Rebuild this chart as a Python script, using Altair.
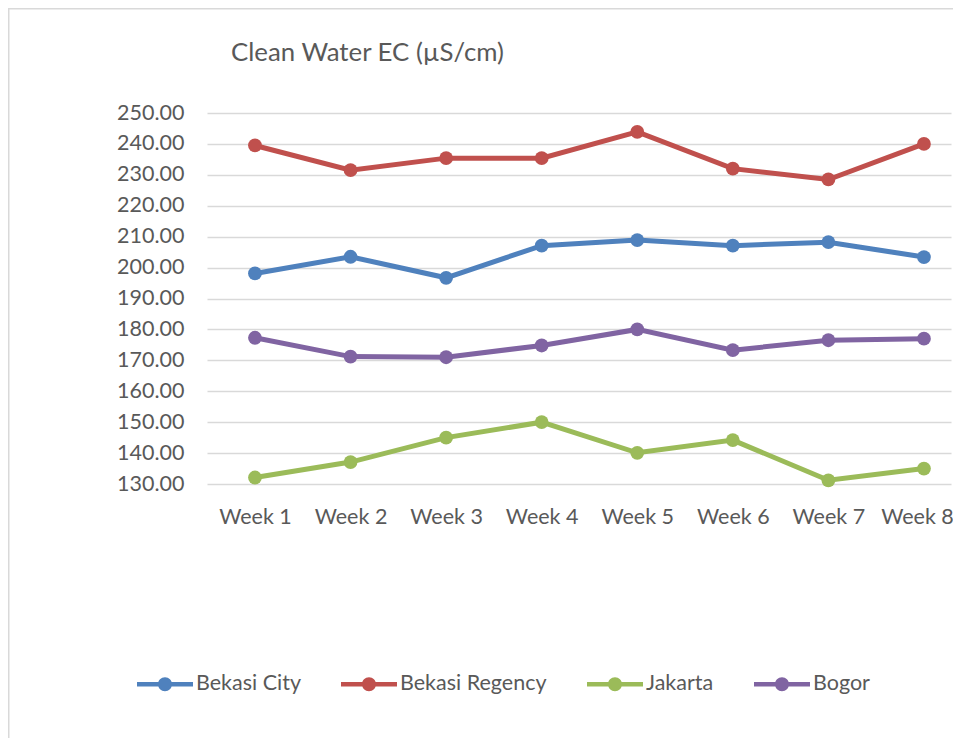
import altair as alt
import pandas as pd

weeks = ["Week 1", "Week 2", "Week 3", "Week 4", "Week 5", "Week 6", "Week 7", "Week 8"]
series_names = ["Bekasi City", "Bekasi Regency", "Jakarta", "Bogor"]
series_colors = ["#4f81bd", "#c0504d", "#9bbb59", "#8064a2"]
bekasi_city = [198.1, 203.5, 196.7, 207.1, 208.9, 207.1, 208.2, 203.4]
bekasi_regency = [239.5, 231.5, 235.4, 235.4, 243.9, 232.0, 228.5, 240.0]
jakarta = [132.1, 137.1, 145.0, 150.0, 140.1, 144.2, 131.2, 135.0]
bogor = [177.3, 171.2, 171.0, 174.8, 180.0, 173.3, 176.5, 177.0]
y_ticks = [130, 140, 150, 160, 170, 180, 190, 200, 210, 220, 230, 240, 250]
chart_title = "Clean Water EC (µS/cm)"

rows = []
for name, vals in zip(series_names, [bekasi_city, bekasi_regency, jakarta, bogor]):
    for i, (w, v) in enumerate(zip(weeks, vals)):
        rows.append({"idx": i, "Week": w, "Series": name, "EC": v})
df = pd.DataFrame(rows)

W, H = 744, 371
FONT = "Lato"
FS = 21.5
TEXT = "#595959"
GRID = "#d9d9d9"

# categories sit at the centres of equal bands; the plot area runs past the right edge
week_label_expr = "[" + ",".join("'%s'" % w for w in weeks) + "][datum.value]"
last_idx = len(weeks) - 1
x = alt.X("idx:Q",
          scale=alt.Scale(domain=[-0.502, 7.283], nice=False, zero=False),
          axis=alt.Axis(title=None, values=list(range(len(weeks))), labelExpr=week_label_expr,
                        labelAngle=0, ticks=False, domain=False, grid=False,
                        labelPadding=22, labelFontSize=FS, labelColor=TEXT, labelFont=FONT,
                        labelFlush=False, labelOverlap=False,
                        labelOffset={"condition": {"test": "datum.value == %d" % last_idx,
                                                   "value": -7}, "value": 0}))
y = alt.Y("EC:Q",
          scale=alt.Scale(domain=[130, 250], nice=False, zero=False),
          axis=alt.Axis(title=None, values=y_ticks, format=".2f", ticks=False, domain=False,
                        gridColor=GRID, gridWidth=1.5, labelPadding=23, labelFontSize=FS,
                        labelColor=TEXT, labelFont=FONT))

legend_path = ("M-1,-0.08L1,-0.08L1,0.08L-1,0.08Z"
               "M0.25,0A0.25,0.25 0 1,1 -0.25,0A0.25,0.25 0 1,1 0.25,0Z")

legend = alt.Legend(title=None, orient="none", legendX=-70, legendY=543,
                    direction="horizontal", columns=4, padding=0,
                    symbolType=legend_path, symbolSize=3136,
                    symbolStrokeWidth=0, symbolOpacity=1,
                    labelFontSize=FS, labelColor=TEXT, labelFont=FONT,
                    labelOffset=3, columnPadding=40, labelLimit=400)
color = alt.Color("Series:N",
                  scale=alt.Scale(domain=series_names, range=series_colors),
                  legend=legend)

base = alt.Chart(df)
lines = base.mark_line(strokeWidth=5).encode(x=x, y=y, color=color)
points = base.mark_point(filled=True, size=190, opacity=1).encode(x=x, y=y, color=color)

BOTTOM = 254
RIGHT = 2
one = alt.Data(values=[{"k": 0}])
top_border = alt.Chart(one).mark_rule(color=GRID, strokeWidth=1.5).encode(
    x=alt.value(-199), x2=alt.value(W + RIGHT), y=alt.value(-104.25))
left_border = alt.Chart(one).mark_rule(color=GRID, strokeWidth=1.5).encode(
    x=alt.value(-198.25), y=alt.value(-105), y2=alt.value(H + BOTTOM))
title_text = alt.Chart(alt.Data(values=[{"t": chart_title}])).mark_text(
    align="left", baseline="alphabetic", font=FONT, fontSize=25.8, color=TEXT
).encode(x=alt.value(24), y=alt.value(-52), text="t:N")

chart = alt.layer(top_border, left_border, title_text, lines, points).properties(
    width=W, height=H,
    autosize=alt.AutoSizeParams(type="none"),
    padding={"left": 199, "top": 105, "right": RIGHT, "bottom": BOTTOM},
).configure(background="white").configure_view(stroke=None)

chart.save("out.html", embed_options={"renderer": "svg", "actions": False})
